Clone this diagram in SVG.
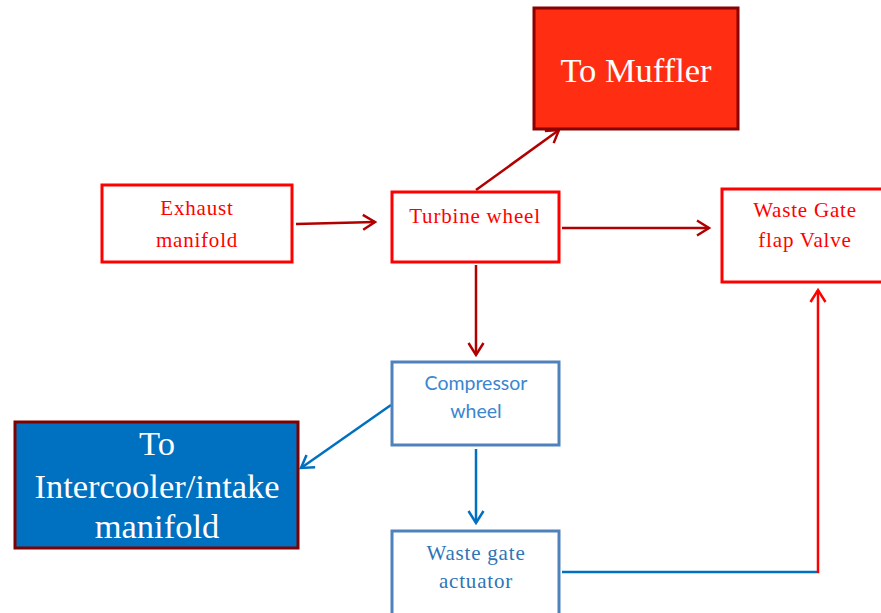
<svg xmlns="http://www.w3.org/2000/svg" width="881" height="613" viewBox="0 0 881 613">
<style>
.rbox{fill:#fff;stroke:#ff0000;stroke-width:3}
.bbox{fill:#fff;stroke:#4f81bd;stroke-width:3}
.rt{fill:#ff0000;font-family:"Liberation Serif",serif;font-size:21px;letter-spacing:0.8px;text-anchor:middle}
.bt{fill:#3a86cf;font-family:"Lato","Open Sans",sans-serif;font-size:19.5px;text-anchor:middle}
.bts{fill:#2e75b6;font-family:"Liberation Serif",serif;font-size:21px;letter-spacing:0.8px;text-anchor:middle}
.wt{fill:#fff;font-family:"Liberation Serif",serif;font-size:34.5px;text-anchor:middle}
.dr{stroke:#b00000;stroke-width:2.5;fill:none}
.bl{stroke:#0070c0;stroke-width:2.5;fill:none}
.rd{stroke:#ff0000;stroke-width:2.5;fill:none}
</style>
<defs>
<marker id="adr" markerWidth="16" markerHeight="18" refX="13" refY="9" orient="auto" markerUnits="userSpaceOnUse"><path d="M1,1.5 L13,9 L1,16.5" fill="none" stroke="#b00000" stroke-width="2.5"/></marker>
<marker id="abl" markerWidth="16" markerHeight="18" refX="13" refY="9" orient="auto" markerUnits="userSpaceOnUse"><path d="M1,1.5 L13,9 L1,16.5" fill="none" stroke="#0070c0" stroke-width="2.5"/></marker>
<marker id="ard" markerWidth="16" markerHeight="18" refX="13" refY="9" orient="auto" markerUnits="userSpaceOnUse"><path d="M1,1.5 L13,9 L1,16.5" fill="none" stroke="#ff0000" stroke-width="2.5"/></marker>
</defs>
<rect width="881" height="613" fill="#fff"/>
<g id="connectors">
<line class="dr" x1="296" y1="224" x2="375" y2="222" marker-end="url(#adr)"/>
<line class="dr" x1="476" y1="190" x2="559" y2="130" marker-end="url(#adr)"/>
<line class="dr" x1="562" y1="228" x2="709" y2="228" marker-end="url(#adr)"/>
<line class="dr" x1="476" y1="265" x2="476" y2="355" marker-end="url(#adr)"/>
<line class="bl" x1="476" y1="449" x2="476" y2="523" marker-end="url(#abl)"/>
<line class="bl" x1="391" y1="405" x2="301" y2="468" marker-end="url(#abl)"/>
<line class="bl" x1="562" y1="572" x2="819" y2="572"/>
<line class="rd" x1="818" y1="573" x2="818" y2="290" marker-end="url(#ard)"/>
</g>
<g id="muffler">
<rect x="534" y="8" width="204" height="121" fill="#ff2e12" stroke="#8b0000" stroke-width="3"/>
<text class="wt" x="636" y="82">To Muffler</text>
</g>
<g id="exhaust">
<rect class="rbox" x="102" y="185" width="190" height="77"/>
<text class="rt" x="197" y="215">Exhaust</text>
<text class="rt" x="197" y="247">manifold</text>
</g>
<g id="turbine">
<rect class="rbox" x="392" y="192" width="167" height="70"/>
<text class="rt" x="475" y="223">Turbine wheel</text>
</g>
<g id="flap">
<rect class="rbox" x="722" y="189" width="165" height="93"/>
<text class="rt" x="805" y="217">Waste Gate</text>
<text class="rt" x="805" y="247">flap Valve</text>
</g>
<g id="compressor">
<rect class="bbox" x="392" y="362" width="167" height="83"/>
<text class="bt" x="476" y="390">Compressor</text>
<text class="bt" x="476" y="418">wheel</text>
</g>
<g id="actuator">
<rect class="bbox" x="392" y="531" width="167" height="90"/>
<text class="bts" x="476" y="560">Waste gate</text>
<text class="bts" x="476" y="588">actuator</text>
</g>
<g id="intercooler">
<rect x="15" y="422" width="283" height="126" fill="#0070c0" stroke="#7f0000" stroke-width="3"/>
<text class="wt" x="157" y="455">To</text>
<text class="wt" x="157" y="498">Intercooler/intake</text>
<text class="wt" x="157" y="538">manifold</text>
</g>
</svg>
